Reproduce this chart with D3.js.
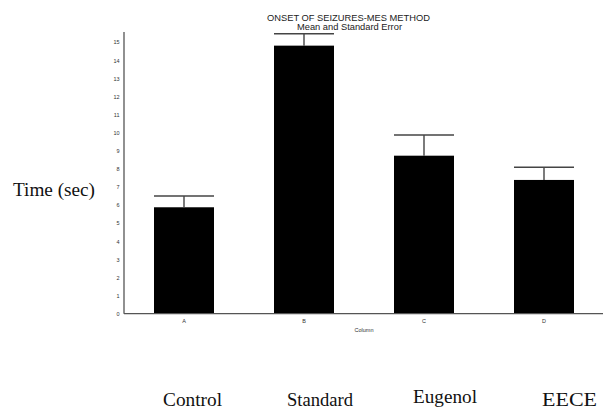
<!DOCTYPE html>
<html><head><meta charset="utf-8">
<script src="https://cdn.jsdelivr.net/npm/d3@7"></script>
<style>body{margin:0;background:#fff}svg{display:block}</style>
</head><body>
<svg id="c" width="603" height="409"></svg>
<script>
(function(){
const categories = ["A","B","C","D"];
const groupNames = ["Control","Standard","Eugenol","EECE"];
const means = [5.88, 14.81, 8.73, 7.39];
const errors = [0.62, 0.66, 1.14, 0.70];
const yTicks = [0,1,2,3,4,5,6,7,8,9,10,11,12,13,14,15];

const svg = d3.select("#c");
const mLeft = 124, mRight = 604, mTop = 32, mBottom = 313.7;
const x = d3.scaleBand().domain(categories).range([mLeft, mRight]).paddingInner(0.5).paddingOuter(0.25);
const y = d3.scaleLinear().domain([0, 15]).range([mBottom, mBottom - 15*18.1]);

const sans = "Arial, Liberation Sans, sans-serif";
const serif = "Liberation Serif, Times New Roman, serif";

// title
svg.append("text").attr("x", 267).attr("y", 20.5)
  .attr("font-family",sans).attr("font-size",9).attr("textLength",163)
  .attr("lengthAdjust","spacingAndGlyphs").attr("fill","#222")
  .text("ONSET OF SEIZURES-MES METHOD");
svg.append("text").attr("x", 297).attr("y", 29.5)
  .attr("font-family",sans).attr("font-size",9).attr("textLength",105)
  .attr("lengthAdjust","spacingAndGlyphs").attr("fill","#222")
  .text("Mean and Standard Error");

// bars
svg.selectAll("rect.bar").data(categories).enter().append("rect")
  .attr("x", d => x(d)).attr("width", x.bandwidth())
  .attr("y", (d,i) => y(means[i])).attr("height", (d,i) => y(0) - y(means[i]))
  .attr("fill","#000");

// error bars
const eb = svg.append("g").attr("stroke","#444").attr("stroke-width",1.4);
categories.forEach((d,i) => {
  const cx = x(d) + x.bandwidth()/2;
  eb.append("line").attr("x1",cx).attr("x2",cx).attr("y1",y(means[i])).attr("y2",y(means[i]+errors[i]));
  eb.append("line").attr("x1",x(d)).attr("x2",x(d)+x.bandwidth())
    .attr("y1",y(means[i]+errors[i])).attr("y2",y(means[i]+errors[i]));
});

// y axis
const ya = svg.append("g").attr("transform",`translate(${mLeft},0)`)
  .call(d3.axisLeft(y).tickValues(yTicks).tickSize(0).tickPadding(4.5));
ya.select(".domain").attr("stroke","#555").attr("stroke-width",1.3).attr("d",`M0,${mTop}V${mBottom}`);
ya.selectAll("text").attr("font-family",sans).attr("font-size",5.5).attr("fill","#333");

// x axis
const xa = svg.append("g").attr("transform",`translate(0,${mBottom})`)
  .call(d3.axisBottom(x).tickSize(0).tickPadding(5.5));
xa.select(".domain").attr("stroke","#555").attr("stroke-width",1.3).attr("d",`M${mLeft},0H603`);
xa.selectAll("text").attr("font-family",sans).attr("font-size",5.5).attr("fill","#333");

svg.append("text").attr("x",364).attr("y",332).attr("text-anchor","middle")
  .attr("font-family",sans).attr("font-size",5.5).attr("fill","#333").text("Column");

// y label
svg.append("text").attr("x",13).attr("y",196)
  .attr("font-family",serif).attr("font-size",19.5).attr("fill","#111")
  .attr("textLength",82).attr("lengthAdjust","spacingAndGlyphs")
  .text("Time (sec)");

// group names
const gx = [192.5, 320, 445, 569.5];
const gy = [406, 406, 402.5, 406];
const gw = [59, 66, 64, 55];
groupNames.forEach((g,i) => {
  svg.append("text").attr("x",gx[i] - gw[i]/2).attr("y",gy[i])
    .attr("font-family",serif).attr("font-size",19.5).attr("fill","#111")
    .attr("textLength",gw[i]).attr("lengthAdjust","spacingAndGlyphs")
    .text(g);
});
})();
</script>
</body></html>
